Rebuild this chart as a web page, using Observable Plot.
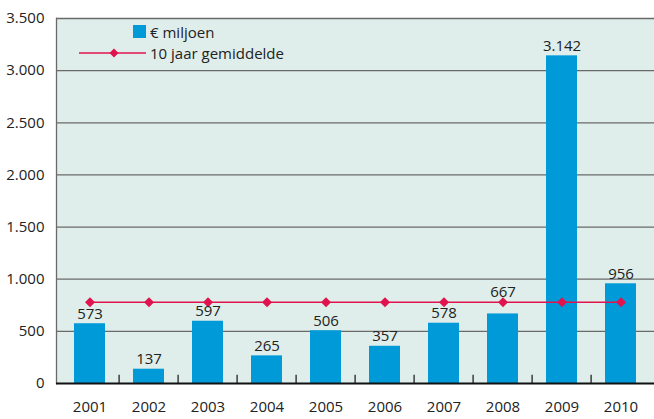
<!DOCTYPE html>
<html>
<head>
<meta charset="utf-8">
<script src="https://cdn.jsdelivr.net/npm/d3@7"></script>
<script src="https://cdn.jsdelivr.net/npm/@observablehq/plot@0.6"></script>
<style>
  html, body { margin: 0; padding: 0; background: #fff; overflow: hidden; }
  #wrap { position: relative; width: 654px; height: 419px; font-family: "Open Sans", sans-serif; }
  #legend { position: absolute; left: 79px; top: 21px; font-size: 15px; color: #222; }
  .row { display: flex; align-items: center; height: 21px; }
  .sw { display: inline-block; }
</style>
</head>
<body>
<div id="wrap">
  <div id="chart"></div>
  <div id="legend">
    <div class="row"><span class="sw" style="width:54px"></span><span class="sw" style="width:13px;height:13px;background:#019ad9;margin-right:4px"></span><span>€ miljoen</span></div>
    <div class="row"><svg width="71" height="12"><line x1="0" x2="67" y1="6" y2="6" stroke="#e0134f" stroke-width="1.5"/><path d="M35,1.5 L39.5,6 L35,10.5 L30.5,6 Z" fill="#e0134f"/></svg><span>10 jaar gemiddelde</span></div>
  </div>
</div>
<script>
const years = ["2001","2002","2003","2004","2005","2006","2007","2008","2009","2010"];
const values = [573, 137, 597, 265, 506, 357, 578, 667, 3142, 956];
const average = 778;
const yTicks = [0, 500, 1000, 1500, 2000, 2500, 3000, 3500];

const nl = d3.formatLocale({decimal: ",", thousands: ".", grouping: [3], currency: ["€", ""]});
const fmt = nl.format(",d");

const bars = years.map((y, i) => ({year: y, value: values[i]}));
const avgData = years.map(y => ({year: y, value: average}));

const W = 654, mL = 56, mR = 0;
const step = (W - mL - mR) / years.length;

const chart = Plot.plot({
  width: W,
  height: 419,
  marginLeft: mL,
  marginRight: mR,
  marginTop: 18,
  marginBottom: 36,
  style: {fontFamily: "'Open Sans', sans-serif", fontSize: "15px", color: "#222", background: "transparent"},
  x: {domain: years, paddingInner: 0.48, paddingOuter: 0.24, label: null},
  y: {domain: [0, 3500], label: null},
  marks: [
    Plot.frame({fill: "#dfeeea", stroke: "none"}),
    Plot.ruleY(yTicks.filter(d => d > 0), {stroke: "#6a6a6a", strokeWidth: 1.3}),
    Plot.axisY({ticks: yTicks, tickFormat: fmt, tickSize: 0, tickPadding: 12, fontSize: "15px"}),
    Plot.axisX({tickSize: 0, tickPadding: 18, fontSize: "15px"}),
    Plot.barY(bars, {x: "year", y: "value", fill: "#019ad9"}),
    Plot.line(avgData, {x: "year", y: "value", stroke: "#e0134f", strokeWidth: 1.5}),
    Plot.dot(avgData, {x: "year", y: "value", symbol: "diamond2", fill: "#e0134f", r: 4.5}),
    Plot.text(bars, {
      x: "year",
      y: d => (d.value < average && d.value > average - 150) ? average : d.value,
      text: d => fmt(d.value), dy: -10, fontSize: "15px", fill: "#222"
    }),
    Plot.ruleX(years.slice(1), {x: d => d, y1: 0, y2: 80, dx: -step / 2, stroke: "#222", strokeWidth: 1.3}),
    Plot.frame({anchor: "left", stroke: "#6a6a6a", strokeWidth: 1.3}),
    Plot.ruleY([0], {stroke: "#111", strokeWidth: 2})
  ]
});
document.getElementById("chart").appendChild(chart);
</script>
</body>
</html>
